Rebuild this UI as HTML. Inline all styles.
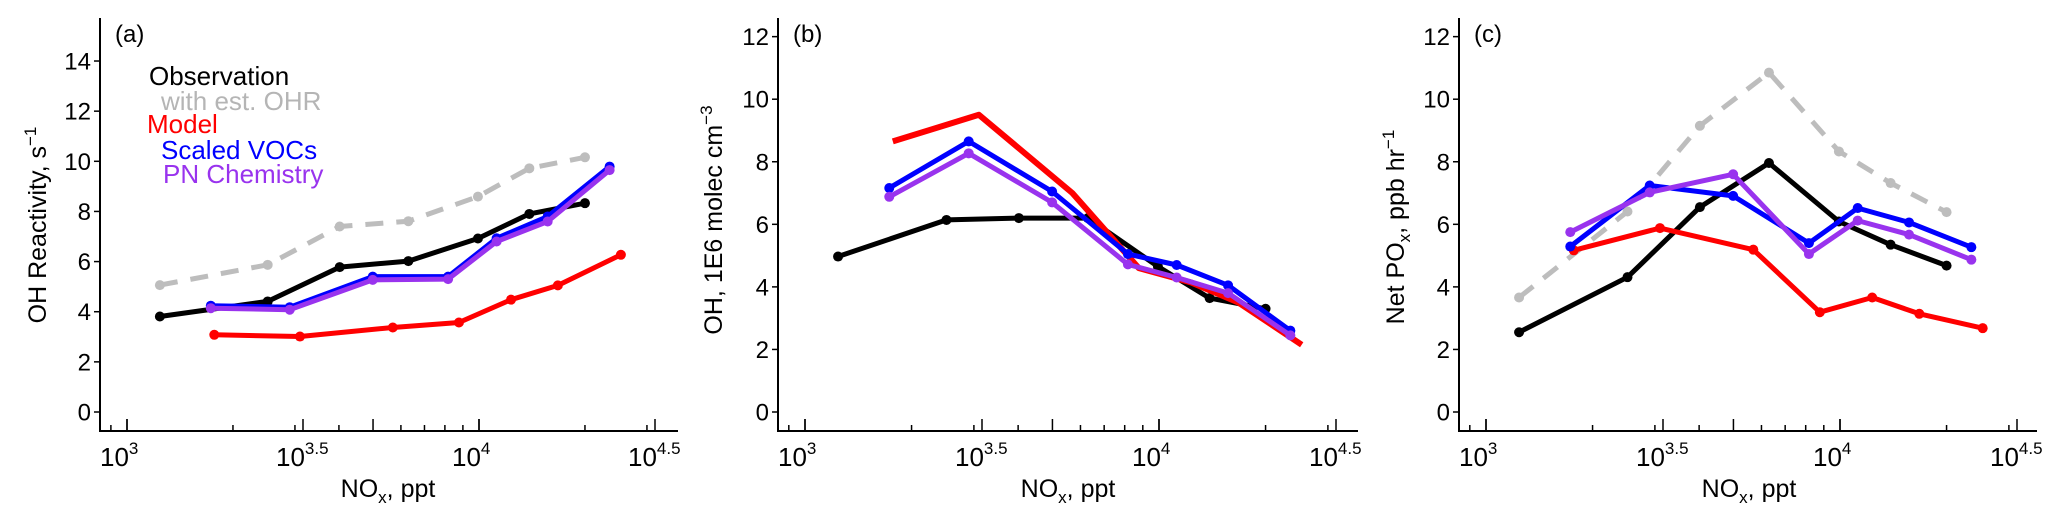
<!DOCTYPE html>
<html><head><meta charset="utf-8">
<style>
html,body{margin:0;padding:0;background:#fff;}
svg{display:block;font-family:"Liberation Sans",Arial,sans-serif;}
</style></head>
<body>
<svg id="chart" width="2067" height="522" viewBox="0 0 2067 522" xmlns="http://www.w3.org/2000/svg"></svg>
<script>
// ---- shared NOx bins (ppt) ----
const noxObs = [1240, 2510, 4020, 6300, 9930, 13900, 20000];
const noxModel = [1770, 3100, 5690, 8770, 12330, 16750, 25300];
const noxScaled = [1730, 2900, 4990, 8170, 11220, 15670, 23500];
const noxPN = [1730, 2900, 4990, 8170, 11220, 15670, 23500];

// ---- panel (a) OH reactivity, s^-1 ----
const aObs = [3.81, 4.41, 5.78, 6.02, 6.92, 7.90, 8.33];
const aObsEst = [5.06, 5.87, 7.40, 7.61, 8.59, 9.72, 10.16];
const aModel = [3.08, 3.01, 3.37, 3.57, 4.48, 5.05, 6.27];
const aScaled = [4.24, 4.18, 5.40, 5.40, 6.93, 7.80, 9.79];
const aPN = [4.14, 4.08, 5.27, 5.30, 6.80, 7.60, 9.65];
const aYTicks = [0, 2, 4, 6, 8, 10, 12, 14];

// ---- panel (b) OH, 1E6 molec cm^-3 ----
const bObs = [4.97, 6.14, 6.20, 6.20, 4.65, 3.64, 3.30];
const bModel = [8.65, 9.50, 7.00, 4.60, 4.14, 3.50, 2.15];
const bScaled = [7.16, 8.65, 7.05, 5.05, 4.70, 4.05, 2.60];
const bPN = [6.88, 8.27, 6.70, 4.72, 4.30, 3.80, 2.45];
const bYTicks = [0, 2, 4, 6, 8, 10, 12];

// ---- panel (c) Net POx, ppb hr^-1 ----
const cObs = [2.55, 4.31, 6.55, 7.96, 6.09, 5.35, 4.68];
const cObsEst = [3.66, 6.41, 9.15, 10.85, 8.33, 7.32, 6.39];
const cModel = [5.17, 5.88, 5.19, 3.19, 3.66, 3.14, 2.68];
const cScaled = [5.29, 7.24, 6.91, 5.40, 6.52, 6.06, 5.27];
const cPN = [5.75, 7.02, 7.60, 5.05, 6.12, 5.67, 4.87];
const cYTicks = [0, 2, 4, 6, 8, 10, 12];

const xTickExps = ["3", "3.5", "4", "4.5"];

const NS = "http://www.w3.org/2000/svg";
const svg = document.getElementById("chart");
function mk(tag, attrs, parent) {
  const e = document.createElementNS(NS, tag);
  for (const k in attrs) e.setAttribute(k, attrs[k]);
  (parent || svg).appendChild(e);
  return e;
}

function panel(cfg) {
  const g = mk("g", {});
  
  
  const xs = v => cfg.x3 + (Math.log10(v) - 3) * cfg.dec;
  const ys = v => cfg.y0 - v * cfg.unit;
  const ya = mk("line", {x1: cfg.ax, y1: cfg.top, x2: cfg.ax, y2: cfg.axY, stroke: "#000", "stroke-width": 2}, g);
  
  
  const xa = mk("line", {x1: cfg.ax - 1, y1: cfg.axY, x2: cfg.right, y2: cfg.axY, stroke: "#000", "stroke-width": 2}, g);
  
  
  cfg.yTicks.forEach(t => {
    const y = ys(t);
    mk("line", {x1: cfg.ax - 6, y1: y, x2: cfg.ax, y2: y, stroke: "#000", "stroke-width": 1.5}, g);
    const tx = mk("text", {x: cfg.ax - 9, y: y + 8.5, "font-size": 24, "text-anchor": "end"}, g);
    tx.textContent = t;
    
    
  });
  for (let d = 2; d <= 4; d++) {
    for (let k = 1; k <= 9; k++) {
      const v = k * Math.pow(10, d);
      const x = xs(v);
      if (x < cfg.ax + 2 || x > cfg.right - 2) continue;
      const len = (k === 1 || k === 5) ? 12 : 6;
      mk("line", {x1: x, y1: cfg.axY, x2: x, y2: cfg.axY - len, stroke: "#000", "stroke-width": 1.5}, g);
    }
  }
  xTickExps.forEach(e => {
    const x = cfg.x3 + (parseFloat(e) - 3) * cfg.dec;
    mk("line", {x1: x, y1: cfg.axY, x2: x, y2: cfg.axY - 12, stroke: "#000", "stroke-width": 1.5}, g);
    const tx = mk("text", {x: x - 27, y: 466, "font-size": 26}, g);
    
    
    tx.appendChild(document.createTextNode("10"));
    const sp = mk("tspan", {dy: -12, "font-size": 17}, tx);
    sp.textContent = e;
  });
  const xt = mk("text", {x: cfg.xTitleX, y: 497, "font-size": 25, "text-anchor": "middle"}, g);
  
  
  xt.appendChild(document.createTextNode("NO"));
  mk("tspan", {dy: 6, "font-size": 17}, xt).textContent = "x";
  mk("tspan", {dy: -6}, xt).textContent = ", ppt";
  const yt = mk("text", {transform: `translate(${cfg.yTitleX},${cfg.yTitleY}) rotate(-90)`, "font-size": 25, "text-anchor": "middle"}, g);
  
  
  cfg.yTitle(yt);
  const pl = mk("text", {x: cfg.ax + 15, y: 42, "font-size": 24}, g);
  pl.textContent = "(" + cfg.id + ")";
  
  
  cfg.series.forEach(s => {
    const sg = mk("g", {}, g);
    
    
    const pts = s.x.map((v, i) => xs(v).toFixed(1) + "," + ys(s.y[i]).toFixed(1)).join(" ");
    const attrs = {points: pts, fill: "none", stroke: s.color, "stroke-width": s.w || 5, "stroke-linejoin": "round"};
    if (s.dash) attrs["stroke-dasharray"] = "18 13";
    mk("polyline", attrs, sg);
    if (s.dots !== false) {
      s.x.forEach((v, i) => {
        const c = mk("circle", {cx: xs(v), cy: ys(s.y[i]), r: 5, fill: s.color}, sg);
        
        
      });
    }
  });
}

function supTitle(el, base, sup) {
  el.appendChild(document.createTextNode(base));
  mk("tspan", {dy: -10, "font-size": 17}, el).textContent = sup;
}

panel({id: "a", ax: 100, axY: 431, top: 18, right: 678, x3: 127, dec: 352, y0: 412, unit: 25.07,
  yTicks: aYTicks, xTitleX: 388, yTitleX: 46, yTitleY: 225,
  yTitle: el => supTitle(el, "OH Reactivity, s", "\u22121"),
  series: [
    {name: "obs-est-ohr-line", x: noxObs, y: aObsEst, color: "#bdbdbd", dash: true},
    {name: "observation-line", x: noxObs, y: aObs, color: "#000"},
    {name: "model-line", x: noxModel, y: aModel, color: "#ff0000"},
    {name: "scaled-vocs-line", x: noxScaled, y: aScaled, color: "#0000ff"},
    {name: "pn-chemistry-line", x: noxPN, y: aPN, color: "#9933ee"}
  ]});

panel({id: "b", ax: 778, axY: 431, top: 18, right: 1358, x3: 805, dec: 354, y0: 412, unit: 31.28,
  yTicks: bYTicks, xTitleX: 1068, yTitleX: 722, yTitleY: 220,
  yTitle: el => supTitle(el, "OH, 1E6 molec cm", "\u22123"),
  series: [
    {name: "observation-line", x: noxObs, y: bObs, color: "#000"},
    {name: "model-line", x: noxModel, y: bModel, color: "#ff0000", w: 6, dots: false},
    {name: "scaled-vocs-line", x: noxScaled, y: bScaled, color: "#0000ff"},
    {name: "pn-chemistry-line", x: noxPN, y: bPN, color: "#9933ee"}
  ]});

panel({id: "c", ax: 1459, axY: 431, top: 18, right: 2037, x3: 1486, dec: 354, y0: 412, unit: 31.28,
  yTicks: cYTicks, xTitleX: 1749, yTitleX: 1404, yTitleY: 227,
  yTitle: el => {
    el.appendChild(document.createTextNode("Net PO"));
    mk("tspan", {dy: 6, "font-size": 17}, el).textContent = "x";
    mk("tspan", {dy: -6}, el).textContent = ", ppb hr";
    mk("tspan", {dy: -10, "font-size": 17}, el).textContent = "\u22121";
  },
  series: [
    {name: "obs-est-ohr-line", x: noxObs, y: cObsEst, color: "#bdbdbd", dash: true},
    {name: "observation-line", x: noxObs, y: cObs, color: "#000"},
    {name: "model-line", x: noxModel, y: cModel, color: "#ff0000"},
    {name: "scaled-vocs-line", x: noxScaled, y: cScaled, color: "#0000ff"},
    {name: "pn-chemistry-line", x: noxPN, y: cPN, color: "#9933ee"}
  ]});

const legend = mk("g", {});


[["Observation", "#000", 149, 85, "legend-observation"],
 ["with est. OHR", "#b5b5b5", 161, 110, "legend-est-ohr"],
 ["Model", "#ff0000", 147, 133, "legend-model"],
 ["Scaled VOCs", "#0000ff", 161, 159, "legend-scaled-vocs"],
 ["PN Chemistry", "#9933ee", 163, 183, "legend-pn-chemistry"]].forEach(r => {
  const t = mk("text", {x: r[2], y: r[3], fill: r[1], "font-size": 26}, legend);
  t.textContent = r[0];
  
  
});
</script>
</body></html>
